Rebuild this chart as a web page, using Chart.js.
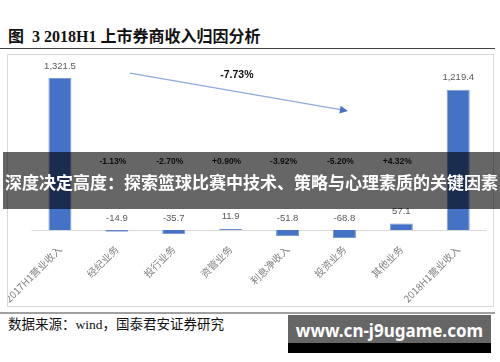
<!DOCTYPE html>
<html>
<head>
<meta charset="utf-8">
<script src="https://cdn.jsdelivr.net/npm/chart.js@4.4.1/dist/chart.umd.min.js"></script>
<style>
  body { margin: 0; width: 500px; height: 362px; background: #fff; position: relative; overflow: hidden; }
  #title { position: absolute; left: 8px; top: 28px; font: bold 16px "Liberation Serif", "Noto Sans CJK SC"; color: #111; line-height: 18px; white-space: nowrap; }
  #rule1 { position: absolute; left: 0; top: 48px; width: 495px; border-top: 1.5px solid #404040; }
  #box { position: absolute; left: 7px; top: 54px; width: 485px; height: 251px; border: 1px solid #d9d9d9; }
  #box canvas { position: absolute; left: 0; top: 0; }
  #rule2 { position: absolute; left: 0; top: 312px; width: 495px; border-top: 2px solid #a0a0a0; }
  #source { position: absolute; left: 8px; top: 317px; font: 13.5px "Liberation Serif", "Noto Sans CJK SC"; color: #111; line-height: 16px; white-space: nowrap; }
  #wm { position: absolute; left: 288px; top: 315px; width: 203px; height: 38px; background: linear-gradient(#666 0, #666 28px, #000 28px); color: #fff; font: bold 17px "Noto Sans", "DejaVu Sans"; line-height: 32px; text-align: center; white-space: nowrap; overflow: hidden; }
  #banner { position: absolute; left: 3px; top: 152px; width: 497px; height: 57px; background: rgba(0, 0, 0, 0.6); color: #fff; font: bold 17px "Noto Sans CJK SC"; line-height: 60px; text-align: center; white-space: nowrap; overflow: hidden; }
</style>
</head>
<body>
<div id="title">图&nbsp; 3 2018H1 上市券商收入归因分析</div>
<div id="rule1"></div>
<div id="box"><canvas id="chart" width="485" height="251"></canvas></div>
<div id="rule2"></div>
<div id="source">数据来源：wind，国泰君安证券研究</div>
<div id="wm">www.cn-j9ugame.com</div>
<div id="banner">深度决定高度：探索篮球比赛中技术、策略与心理素质的关键因素</div>
<script>
// 类别与数值（亿元）
const categories = ['2017H1营业收入', '经纪业务', '投行业务', '资管业务', '利息净收入', '投资业务', '其他业务', '2018H1营业收入'];
const revenueValues = [1321.5, -14.9, -35.7, 11.9, -51.8, -68.8, 57.1, 1219.4];
// 各项业务对收入变动的贡献
const changePct = [null, '-1.13%', '-2.70%', '+0.90%', '-3.92%', '-5.20%', '+4.32%', null];
const totalChange = '-7.73%';

const fmt = (v) => v.toLocaleString('en-US', { minimumFractionDigits: 1, maximumFractionDigits: 1 });

// 零轴、数据标签、百分比和箭头
const annotatePlugin = {
    id: 'annotate',
    beforeDatasetsDraw(chart) {
        const { ctx, chartArea, scales } = chart;
        const y0 = Math.round(scales.y.getPixelForValue(0)) + 0.5;
        ctx.save();
        ctx.strokeStyle = '#d9d9d9';
        ctx.lineWidth = 1;
        ctx.beginPath();
        ctx.moveTo(chartArea.left, y0);
        ctx.lineTo(chartArea.right, y0);
        ctx.stroke();
        ctx.restore();
    },
    afterDatasetsDraw(chart) {
        const { ctx, scales } = chart;
        const x = scales.x, y = scales.y;
        const meta = chart.getDatasetMeta(0);
        ctx.save();
        ctx.textAlign = 'center';
        ctx.textBaseline = 'middle';

        // 数值标签
        ctx.fillStyle = '#595959';
        ctx.font = '9.5px "Liberation Sans", sans-serif';
        meta.data.forEach((bar, i) => {
            const top = Math.min(bar.y, y.getPixelForValue(0));
            ctx.fillText(fmt(revenueValues[i]), bar.x, top - 12);
        });

        // 百分比
        ctx.fillStyle = '#222';
        ctx.font = 'bold 8.5px "Liberation Sans", sans-serif';
        changePct.forEach((p, i) => {
            if (!p) return;
            ctx.fillText(p, x.getPixelForValue(i) - 4, y.getPixelForValue(590));
        });

        // 箭头
        const x1 = x.getPixelForValue(1.23), y1 = y.getPixelForValue(1365);
        const x2 = x.getPixelForValue(5.06), y2 = y.getPixelForValue(1035);
        const ang = Math.atan2(y2 - y1, x2 - x1);
        ctx.strokeStyle = '#8faadc';
        ctx.lineWidth = 1.3;
        ctx.beginPath();
        ctx.moveTo(x1, y1);
        ctx.lineTo(x2 - 6 * Math.cos(ang), y2 - 6 * Math.sin(ang));
        ctx.stroke();
        ctx.fillStyle = '#4472c4';
        ctx.beginPath();
        ctx.moveTo(x2, y2);
        ctx.lineTo(x2 - 8 * Math.cos(ang) + 4 * Math.sin(ang), y2 - 8 * Math.sin(ang) - 4 * Math.cos(ang));
        ctx.lineTo(x2 - 8 * Math.cos(ang) - 4 * Math.sin(ang), y2 - 8 * Math.sin(ang) + 4 * Math.cos(ang));
        ctx.closePath();
        ctx.fill();

        ctx.fillStyle = '#111';
        ctx.font = 'bold 10.5px "Liberation Sans", sans-serif';
        ctx.fillText(totalChange, x.getPixelForValue(3.11), y.getPixelForValue(1348));
        ctx.restore();
    }
};

new Chart(document.getElementById('chart'), {
    type: 'bar',
    data: {
        labels: categories,
        datasets: [{
            data: revenueValues,
            backgroundColor: '#4472c4',
            borderColor: '#7b9bd6',
            borderWidth: 1,
            barPercentage: 0.404,
            categoryPercentage: 1
        }]
    },
    options: {
        responsive: false,
        animation: false,
        layout: { padding: { left: 23.5, right: 6.3, top: 14, bottom: 0 } },
        plugins: { legend: { display: false }, tooltip: { enabled: false } },
        scales: {
            x: {
                grid: { display: false },
                border: { display: false },
                ticks: {
                    minRotation: 45,
                    maxRotation: 45,
                    padding: -4,
                    color: '#808080',
                    font: { size: 10, family: '"Noto Sans CJK SC", sans-serif' }
                },
                afterFit(scale) { scale.height = 66.8; }
            },
            y: { display: false, min: -80, max: 1400 }
        }
    },
    plugins: [annotatePlugin]
});
</script>
</body>
</html>
